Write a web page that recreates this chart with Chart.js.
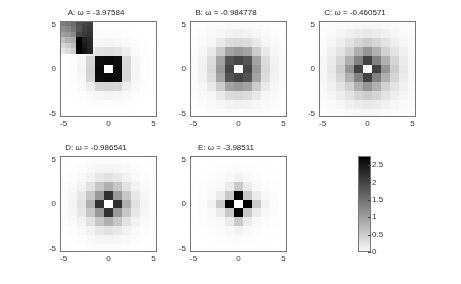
<!DOCTYPE html>
<html>
<head>
<meta charset="utf-8">
<script src="https://cdn.jsdelivr.net/npm/chart.js@4.4.0/dist/chart.umd.min.js"></script>
<style>
  body { margin: 0; background: #fff; }
  #wrap { position: relative; width: 461px; height: 284px; overflow: hidden; background: #fff; }
  canvas { position: absolute; }
</style>
</head>
<body>
<div id="wrap">
  <canvas id="panelA" width="128" height="131" style="left:35px;top:0px"></canvas>
  <canvas id="panelB" width="128" height="131" style="left:165px;top:0px"></canvas>
  <canvas id="panelC" width="128" height="131" style="left:294px;top:0px"></canvas>
  <canvas id="panelD" width="128" height="131" style="left:35px;top:135px"></canvas>
  <canvas id="panelE" width="128" height="131" style="left:165px;top:135px"></canvas>
  <canvas id="colorbar" width="37" height="108" style="left:356px;top:150px"></canvas>
</div>
<script>
// values, rows from y = 5 (top) down to y = -5
var gridX = [-5, -4, -3, -2, -1, 0, 1, 2, 3, 4, 5];
var gridY = [5, 4, 3, 2, 1, 0, -1, -2, -3, -4, -5];
var axisTicks = [-5, 0, 5];

var titles = ['A: ω = -3.97584', 'B: ω = -0.984778', 'C: ω = -0.460571', 'D: ω = -0.986541', 'E: ω = -3.98511'];

var valuesA = [
  [0, 0, 0, .01, .01, .01, .01, .01, 0, 0, 0],
  [0, 0, .01, .02, .03, .03, .03, .02, .01, 0, 0],
  [0, .01, .03, .06, .10, .12, .10, .06, .03, .01, 0],
  [.01, .02, .06, .18, .32, .35, .32, .20, .06, .02, .01],
  [.01, .03, .10, .45, 2.62, 2.65, 2.62, .42, .10, .03, .01],
  [.01, .03, .12, .48, 2.65, 0, 2.65, .42, .12, .03, .01],
  [.01, .03, .10, .45, 2.62, 2.65, 2.62, .42, .10, .03, .01],
  [.01, .02, .06, .20, .45, .48, .45, .20, .06, .02, .01],
  [0, .01, .03, .06, .10, .12, .10, .06, .03, .01, 0],
  [0, 0, .01, .02, .03, .03, .03, .02, .01, 0, 0],
  [0, 0, 0, .01, .01, .01, .01, .01, 0, 0, 0]
];

// small picture stuck in the top left corner of panel A
var insetA = [
  [1.39, 1.46, 1.61, 1.89, 1.98, 2.07],
  [1.20, 1.29, 1.47, 1.84, 2.07, 2.15],
  [1.03, 1.10, 1.29, 2.02, 2.13, 2.20],
  [0.68, 0.86, 0.92, 2.76, 2.39, 2.31],
  [0.42, 0.55, 0.74, 2.76, 2.50, 2.33],
  [0.25, 0.37, 0.55, 2.76, 2.58, 2.39]
];

var valuesB = [
  [.01, .02, .03, .04, .05, .05, .05, .04, .03, .02, .01],
  [.02, .03, .06, .10, .14, .16, .14, .10, .06, .03, .02],
  [.03, .06, .10, .24, .38, .42, .38, .24, .10, .06, .03],
  [.04, .10, .24, .55, 1.0, 1.1, 1.0, .55, .24, .10, .04],
  [.05, .14, .38, 1.0, 1.85, 2.0, 1.85, 1.0, .38, .14, .05],
  [.05, .16, .42, 1.1, 2.0, 0, 2.0, 1.1, .42, .16, .05],
  [.05, .14, .38, 1.0, 1.85, 2.0, 1.85, 1.0, .38, .14, .05],
  [.04, .10, .24, .55, 1.0, 1.1, 1.0, .55, .24, .10, .04],
  [.03, .06, .10, .24, .38, .42, .38, .24, .10, .06, .03],
  [.02, .03, .06, .10, .14, .16, .14, .10, .06, .03, .02],
  [.01, .02, .03, .04, .05, .05, .05, .04, .03, .02, .01]
];

var valuesC = [
  [.02, .03, .05, .07, .09, .10, .09, .07, .05, .03, .02],
  [.03, .05, .10, .16, .22, .25, .22, .16, .10, .05, .03],
  [.05, .10, .18, .30, .45, .55, .45, .30, .18, .10, .05],
  [.07, .16, .30, .50, .85, 1.15, .85, .50, .30, .16, .07],
  [.09, .22, .45, .85, 1.35, 2.05, 1.35, .85, .45, .22, .09],
  [.10, .25, .55, 1.15, 2.05, 0, 2.05, 1.15, .55, .25, .10],
  [.09, .22, .45, .85, 1.35, 2.05, 1.35, .85, .45, .22, .09],
  [.07, .16, .30, .50, .85, 1.15, .85, .50, .30, .16, .07],
  [.05, .10, .18, .30, .45, .55, .45, .30, .18, .10, .05],
  [.03, .05, .10, .16, .22, .25, .22, .16, .10, .05, .03],
  [.02, .03, .05, .07, .09, .10, .09, .07, .05, .03, .02]
];

var valuesD = [
  [.01, .01, .02, .03, .04, .04, .04, .03, .02, .01, .01],
  [.01, .02, .03, .06, .10, .12, .10, .06, .03, .02, .01],
  [.02, .03, .07, .14, .26, .33, .26, .14, .07, .03, .02],
  [.03, .06, .14, .33, .62, .85, .62, .33, .14, .06, .03],
  [.04, .10, .26, .62, 1.1, 2.25, 1.1, .62, .26, .10, .04],
  [.04, .12, .33, .85, 2.25, 0, 2.25, .85, .33, .12, .04],
  [.04, .10, .26, .62, 1.1, 2.25, 1.1, .62, .26, .10, .04],
  [.03, .06, .14, .33, .62, .85, .62, .33, .14, .06, .03],
  [.02, .03, .07, .14, .26, .33, .26, .14, .07, .03, .02],
  [.01, .02, .03, .06, .10, .12, .10, .06, .03, .02, .01],
  [.01, .01, .02, .03, .04, .04, .04, .03, .02, .01, .01]
];

var valuesE = [
  [0, 0, 0, .01, .01, .01, .01, .01, 0, 0, 0],
  [0, 0, .01, .02, .03, .04, .03, .02, .01, 0, 0],
  [0, .01, .02, .04, .08, .14, .08, .04, .02, .01, 0],
  [.01, .02, .04, .08, .22, .58, .22, .08, .04, .02, .01],
  [.01, .03, .08, .22, .60, 2.72, .60, .22, .08, .03, .01],
  [.01, .04, .14, .58, 2.72, 0, 2.72, .58, .14, .04, .01],
  [.01, .03, .08, .22, .60, 2.72, .60, .22, .08, .03, .01],
  [.01, .02, .04, .08, .22, .58, .22, .08, .04, .02, .01],
  [0, .01, .02, .04, .08, .14, .08, .04, .02, .01, 0],
  [0, 0, .01, .02, .03, .04, .03, .02, .01, 0, 0],
  [0, 0, 0, .01, .01, .01, .01, .01, 0, 0, 0]
];

var colorMax = 2.76;
var colorbarTicks = [0, 0.5, 1, 1.5, 2, 2.5];
var colorbarLabels = ['0', '0.5', '1', '1.5', '2', '2.5'];

var font = { family: '"Liberation Sans", Arial, sans-serif', size: 8 };
var textColor = '#333';
var boxColor = '#777';

// flipped gray colormap: 0 is white, colorMax is black
function grayFor(v) {
  var g = Math.round(255 * (1 - Math.min(Math.max(v / colorMax, 0), 1)));
  return 'rgb(' + g + ',' + g + ',' + g + ')';
}

function gridCells(values) {
  var cells = [];
  for (var i = 0; i < gridY.length; i++) {
    for (var j = 0; j < gridX.length; j++) {
      cells.push({ x: gridX[j], y: gridY[i], v: values[i][j] });
    }
  }
  return cells;
}

function insetCells(values, left, top, size) {
  var cells = [];
  for (var i = 0; i < values.length; i++) {
    for (var j = 0; j < values[i].length; j++) {
      cells.push({ x: left + (j + 0.5) * size, y: top - (i + 0.5) * size, v: values[i][j] });
    }
  }
  return cells;
}

var cellPlugin = {
  id: 'cells',
  beforeDatasetsDraw: function(chart) {
    var ctx = chart.ctx, a = chart.chartArea, sx = chart.scales.x, sy = chart.scales.y;
    ctx.save();
    ctx.beginPath();
    ctx.rect(a.left, a.top, a.width, a.height);
    ctx.clip();
    chart.data.datasets.forEach(function(ds) {
      var half = ds.cellSize / 2;
      ds.data.forEach(function(p) {
        var x0 = Math.round(sx.getPixelForValue(p.x - half));
        var x1 = Math.round(sx.getPixelForValue(p.x + half));
        var y0 = Math.round(sy.getPixelForValue(p.y + half));
        var y1 = Math.round(sy.getPixelForValue(p.y - half));
        ctx.fillStyle = grayFor(p.v);
        ctx.fillRect(x0, y0, x1 - x0, y1 - y0);
      });
    });
    ctx.restore();
  },
  afterDraw: function(chart) {
    var ctx = chart.ctx, a = chart.chartArea;
    ctx.save();
    ctx.strokeStyle = boxColor;
    ctx.lineWidth = 1;
    ctx.strokeRect(Math.round(a.left) + 0.5, Math.round(a.top) + 0.5,
      Math.round(a.width) - 1, Math.round(a.height) - 1);
    ctx.restore();
  }
};

function axis(isX) {
  return {
    type: 'linear',
    min: -5.4,
    max: 5.4,
    grid: { display: false, drawTicks: false },
    border: { display: false },
    ticks: {
      font: font,
      color: textColor,
      padding: isX ? 2 : 4,
      maxRotation: 0,
      autoSkip: false
    },
    afterBuildTicks: function(scale) {
      scale.ticks = axisTicks.map(function(v) { return { value: v }; });
    },
    afterFit: function(scale) {
      if (isX) scale.height = 14; else scale.width = 25;
    }
  };
}

function makePanel(id, title, values, extra) {
  var datasets = [{ data: gridCells(values), cellSize: 1, pointRadius: 0 }];
  if (extra) datasets.push(extra);
  new Chart(document.getElementById(id), {
    type: 'scatter',
    data: { datasets: datasets },
    options: {
      responsive: false,
      animation: false,
      events: [],
      layout: { padding: { top: 5.7, right: 6, left: 0, bottom: 0 } },
      plugins: {
        legend: { display: false },
        tooltip: { enabled: false },
        title: {
          display: true,
          text: title,
          color: '#222',
          font: { family: font.family, size: 8, weight: 'normal' },
          padding: { top: 2, bottom: 3.7 }
        }
      },
      scales: { x: axis(true), y: axis(false) }
    },
    plugins: [cellPlugin]
  });
}

makePanel('panelA', titles[0], valuesA,
  { data: insetCells(insetA, -5.4, 5.4, 0.61), cellSize: 0.61, pointRadius: 0 });
makePanel('panelB', titles[1], valuesB);
makePanel('panelC', titles[2], valuesC);
makePanel('panelD', titles[3], valuesD);
makePanel('panelE', titles[4], valuesE);

// colorbar
var colorbarPlugin = {
  id: 'cbar',
  afterDraw: function(chart) {
    var ctx = chart.ctx, a = chart.chartArea, sy = chart.scales.y;
    ctx.save();
    ctx.strokeStyle = boxColor;
    ctx.lineWidth = 1;
    ctx.strokeRect(Math.round(a.left) + 0.5, Math.round(a.top) + 0.5,
      Math.round(a.width) - 1, Math.round(a.height) - 1);
    ctx.strokeStyle = '#444';
    sy.ticks.forEach(function(t) {
      var py = Math.round(sy.getPixelForValue(t.value)) + 0.5;
      ctx.beginPath();
      ctx.moveTo(Math.round(a.right) - 3, py);
      ctx.lineTo(Math.round(a.right), py);
      ctx.stroke();
    });
    ctx.restore();
  }
};

new Chart(document.getElementById('colorbar'), {
  type: 'bar',
  data: {
    labels: [''],
    datasets: [{
      data: [[0, colorMax]],
      barPercentage: 1,
      categoryPercentage: 1,
      borderWidth: 0,
      backgroundColor: function(c) {
        var chart = c.chart, sy = chart.scales.y;
        if (!chart.chartArea || !sy) return '#888';
        var g = chart.ctx.createLinearGradient(0, sy.getPixelForValue(0), 0, sy.getPixelForValue(colorMax));
        g.addColorStop(0, grayFor(0.05));
        g.addColorStop(1, grayFor(colorMax));
        return g;
      }
    }]
  },
  options: {
    responsive: false,
    animation: false,
    events: [],
    layout: { padding: { top: 6, right: 0, left: 2, bottom: 6 } },
    plugins: { legend: { display: false }, tooltip: { enabled: false } },
    scales: {
      x: { display: false },
      y: {
        position: 'right',
        min: 0,
        max: colorMax,
        grid: { display: false, drawTicks: false },
        border: { display: false },
        ticks: {
          font: font,
          color: textColor,
          padding: 1,
          callback: function(v, i) { return colorbarLabels[i]; }
        },
        afterBuildTicks: function(scale) {
          scale.ticks = colorbarTicks.map(function(v) { return { value: v }; });
        },
        afterFit: function(scale) { scale.width = 22; }
      }
    }
  },
  plugins: [colorbarPlugin]
});
</script>
</body>
</html>
